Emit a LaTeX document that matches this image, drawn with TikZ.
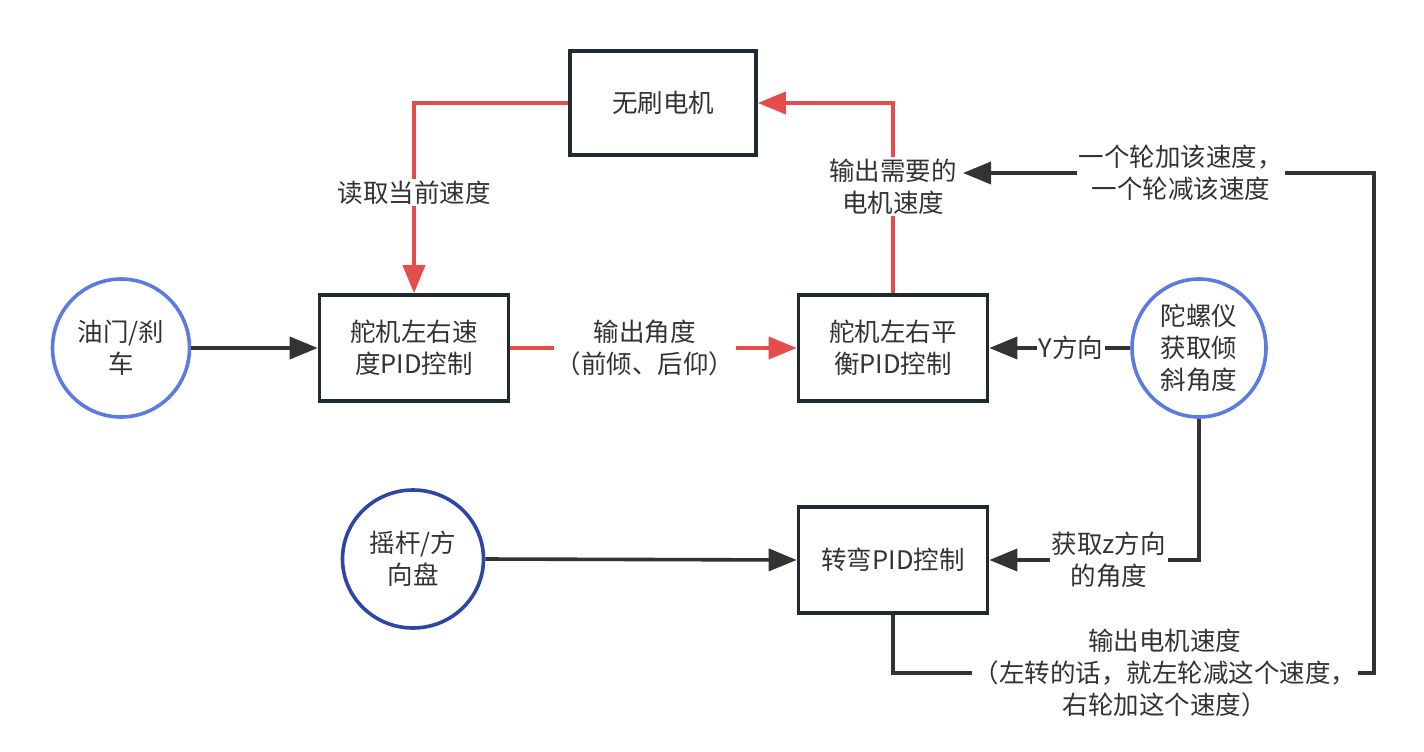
\documentclass[tikz,border=0pt]{standalone}
\usepackage{fontspec}
\setmainfont{Noto Sans CJK SC}
\usetikzlibrary{arrows.meta,shapes.geometric}
\definecolor{redl}{HTML}{E54D4B}
\definecolor{boxc}{HTML}{1F2A33}
\definecolor{linec}{HTML}{333333}
\definecolor{bluea}{HTML}{5B7BE3}
\definecolor{blueb}{HTML}{2E45A6}
\definecolor{txt}{HTML}{333333}
\begin{document}
\begin{tikzpicture}[x=1pt,y=-1pt,
  every node/.style={text=txt,font=\fontsize{25.5}{32}\selectfont},
  pbox/.style={draw=boxc,line width=3.6pt,minimum width=189pt,minimum height=106pt,align=center,inner sep=2pt},
  circ/.style={ellipse,draw=bluea,line width=3.6pt,align=center,inner sep=0pt},
  redline/.style={draw=redl,line width=3.6pt,-{Triangle[length=28pt,width=22pt]}},
  blkline/.style={draw=linec,line width=3.6pt,-{Triangle[length=28pt,width=22pt]}},
  lbl/.style={fill=white,align=center,inner sep=2pt}]
\useasboundingbox (0,0) rectangle (1424,752);
\fill[white] (0,0) rectangle (1424,752);

\node[pbox,minimum width=186pt,minimum height=104pt] (m) at (663,103) {无刷电机};
\node[pbox] (v) at (414,348) {舵机左右速\\度PID控制};
\node[pbox] (b) at (893,348) {舵机左右平\\衡PID控制};
\node[pbox] (t) at (893,560) {转弯PID控制};

\node[circ,minimum width=137pt,minimum height=138pt] (o) at (121,348) {油门/刹\\车};
\node[circ,minimum width=134pt,minimum height=138pt] (g) at (1199,348) {陀螺仪\\获取倾\\斜角度};
\node[circ,draw=blueb,minimum width=141pt,minimum height=138pt] (j) at (413,559) {摇杆/方\\向盘};

% black input arrows
\draw[blkline] (o.east) -- (v.west);
\draw[blkline] (j.east) -- (t.west);

% red: speed PID -> balance PID
\draw[redline] (v.east) -- node[lbl,pos=0.47] {输出角度\\（前倾、后仰）} (b.west);

% red: balance -> motor
\coordinate (c1) at (b.north |- m.east);
\draw[redline] (b.north) -- node[lbl,pos=0.56] (ls) {输出需要的\\电机速度} (c1) -- (m.east);

% red: motor -> speed PID
\coordinate (c2) at (v.north |- m.west);
\draw[redline] (m.west) -- (c2) -- node[lbl,pos=0.47] {读取当前速度} (v.north);

% gyro -> balance
\draw[blkline] (g.west) -- node[lbl,pos=0.42] {Y方向} (b.east);

% gyro -> turn
\coordinate (c3) at (g.south |- t.east);
\draw[blkline] (g.south) -- (c3) -- node[lbl,pos=0.43] {获取z方向\\的角度} (t.east);

% turn -> loop -> speed label
\coordinate (c4) at (893,673);
\coordinate (c5) at (1374,673);
\coordinate (c6) at (1374,173);
\coordinate (tip) at (963,173);
\draw[blkline] (t.south) -- (c4) -- node[lbl,pos=0.565] {输出电机速度\\（左转的话，就左轮减这个速度，\\右轮加这个速度）} (c5) -- (c6) -- node[lbl,pos=0.47] {一个轮加该速度，\\一个轮减该速度} (tip);
\end{tikzpicture}
\end{document}
